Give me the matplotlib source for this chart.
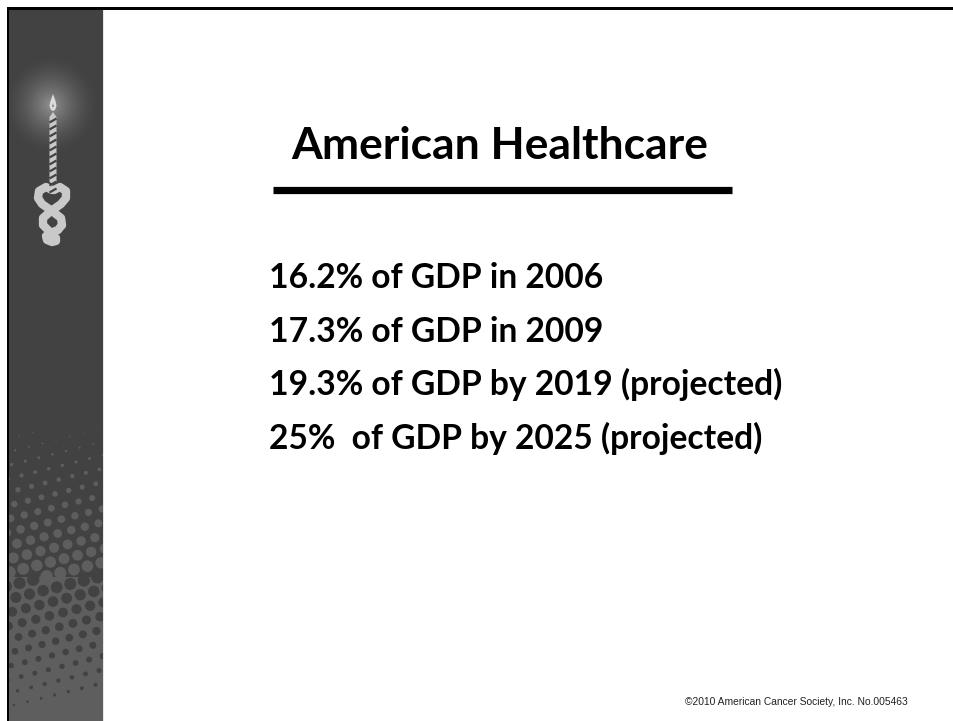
import matplotlib
matplotlib.use("Agg")
import matplotlib.pyplot as plt
import matplotlib.patches as patches
import numpy as np

# slide content
title = "American Healthcare"
bullets = [
    "16.2% of GDP in 2006",
    "17.3% of GDP in 2009",
    "19.3% of GDP by 2019 (projected)",
    "25%  of GDP by 2025 (projected)",
]
footer = "\u00a92010 American Cancer Society, Inc. No.005463"

W, H = 954, 721
dark = "#424242"
mid = "#5e5e5e"
light = "#c9c9c9"

fig = plt.figure(figsize=(W / 100, H / 100), dpi=100)
ax = fig.add_axes([0, 0, 1, 1])
ax.set_xlim(0, W)
ax.set_ylim(H, 0)
ax.axis("off")
fig.patch.set_facecolor("white")

# sidebar
ax.add_patch(patches.Rectangle((9, 9), 94, H, facecolor=dark, edgecolor="none", zorder=1))
ax.add_patch(patches.Rectangle((9, 577), 94, H, facecolor=mid, edgecolor="none", zorder=1))
# borders
ax.add_patch(patches.Rectangle((7, 7), W, 2.5, facecolor="black", edgecolor="none", zorder=5))
ax.add_patch(patches.Rectangle((7, 7), 2.5, H, facecolor="black", edgecolor="none", zorder=5))
ax.add_patch(patches.Rectangle((103, 9), 1.5, H, facecolor="#e6e6e6", edgecolor="none", zorder=2))

# glow behind the candle
gx, gy = np.meshgrid(np.linspace(9, 103, 120), np.linspace(40, 175, 170))
r = np.hypot(gx - 51, (gy - 105) * 0.95)
alpha = np.clip(1 - r / 48, 0, 1) ** 1.6
glow = np.zeros(gx.shape + (4,))
glow[..., :3] = 0.62
glow[..., 3] = alpha * 0.85
ax.imshow(glow, extent=(9, 103, 175, 40), zorder=2, interpolation="bilinear")
ax.set_xlim(0, W)
ax.set_ylim(H, 0)

# halftone dots, kept inside the sidebar
clip = patches.Polygon([(9, 9), (103, 9), (103, H), (9, H)], closed=True,
                       transform=ax.transData, facecolor="none", edgecolor="none")
ax.add_patch(clip)
ang = np.deg2rad(-14)
for i in range(-6, 16):
    for j in range(-4, 22):
        u = 14.0 * i + (7.0 if j % 2 else 0.0)
        v = 13.0 * j
        x = 9 + u * np.cos(ang) - v * np.sin(ang)
        y = 425 + u * np.sin(ang) + v * np.cos(ang)
        if x < 0 or x > 112:
            continue
        if 425 < y < 577:
            rad = 0.3 + 6.0 * ((y - 425) / 152) ** 1.1
            col = mid
        elif y >= 577 and y < H:
            rad = 6.3 - 5.6 * ((y - 577) / 140)
            col = dark
        else:
            continue
        if rad <= 0.3:
            continue
        c = patches.Circle((x, y), rad, facecolor=col, edgecolor="none", zorder=3)
        ax.add_patch(c)
        c.set_clip_path(clip)

# candle flame
flame = patches.Polygon(
    [(53, 94), (55.5, 101), (56.5, 106), (55, 110), (53, 111), (51, 110), (49.5, 106), (50.5, 101)],
    closed=True, facecolor="#dcdcdc", edgecolor="none", zorder=4)
ax.add_patch(flame)
ax.add_patch(patches.Polygon([(52, 107), (53, 103), (54, 107)], closed=True,
                             facecolor="#7a7a7a", edgecolor="none", zorder=4))
# twisted candle stick
ax.add_patch(patches.Polygon([(49.5, 117), (53, 112), (56.5, 117), (56.5, 190), (49.5, 190)],
                             closed=True, facecolor=light, edgecolor="none", zorder=4))
for k in range(11):
    yy = 120 + 7 * k
    ax.plot([49.5, 56.5], [yy + 2.5, yy - 1.5], color=dark, lw=1.6, zorder=4.5,
            solid_capstyle="butt")

# serpent knot
knot = [
    ([52, 46, 39, 38, 42, 52, 61, 62], [190, 187, 191, 198, 204, 211, 218, 225]),
    ([54, 60, 66, 66, 61, 51, 43, 43, 49], [190, 187, 191, 198, 204, 211, 218, 225, 231]),
    ([62, 58, 50, 46, 47, 52, 56, 56], [225, 230, 233, 236, 240, 242, 241, 238]),
]
for xs, ys in knot:
    ax.plot(xs, ys, color=dark, lw=8.5, solid_capstyle="round", solid_joinstyle="round", zorder=4)
    ax.plot(xs, ys, color=light, lw=6.0, solid_capstyle="round", solid_joinstyle="round", zorder=4.2)
ax.plot([43.5, 45.5], [238, 238], color=light, lw=1, zorder=4)

# text
def fit(txt, target, size, **kw):
    t = ax.text(0, 0, txt, fontsize=size, **kw)
    fig.canvas.draw()
    w = t.get_window_extent().width
    t.remove()
    return size * target / w

font = ["Lato", "DejaVu Sans"]
tsize = fit(title, 416, 28, family=font, weight="bold")
ax.text(500, 159, title, fontsize=tsize, family=font, weight="bold",
        ha="center", va="baseline", zorder=6)
ax.plot([273, 732], [189.5, 189.5], color="black", lw=5.2, solid_capstyle="butt", zorder=6)

bsize = fit(bullets[2], 513, 24, family=font, weight="bold")
for k, line in enumerate(bullets):
    ax.text(269, 288 + 53.7 * k, line, fontsize=bsize, family=font, weight="bold",
            ha="left", va="baseline", zorder=6)

ax.text(908, 702, footer, fontsize=7.4, family=["Liberation Sans", "DejaVu Sans"],
        ha="right", va="center", color="#222222", zorder=6)

fig.savefig("out.png", dpi=100, facecolor="white")
